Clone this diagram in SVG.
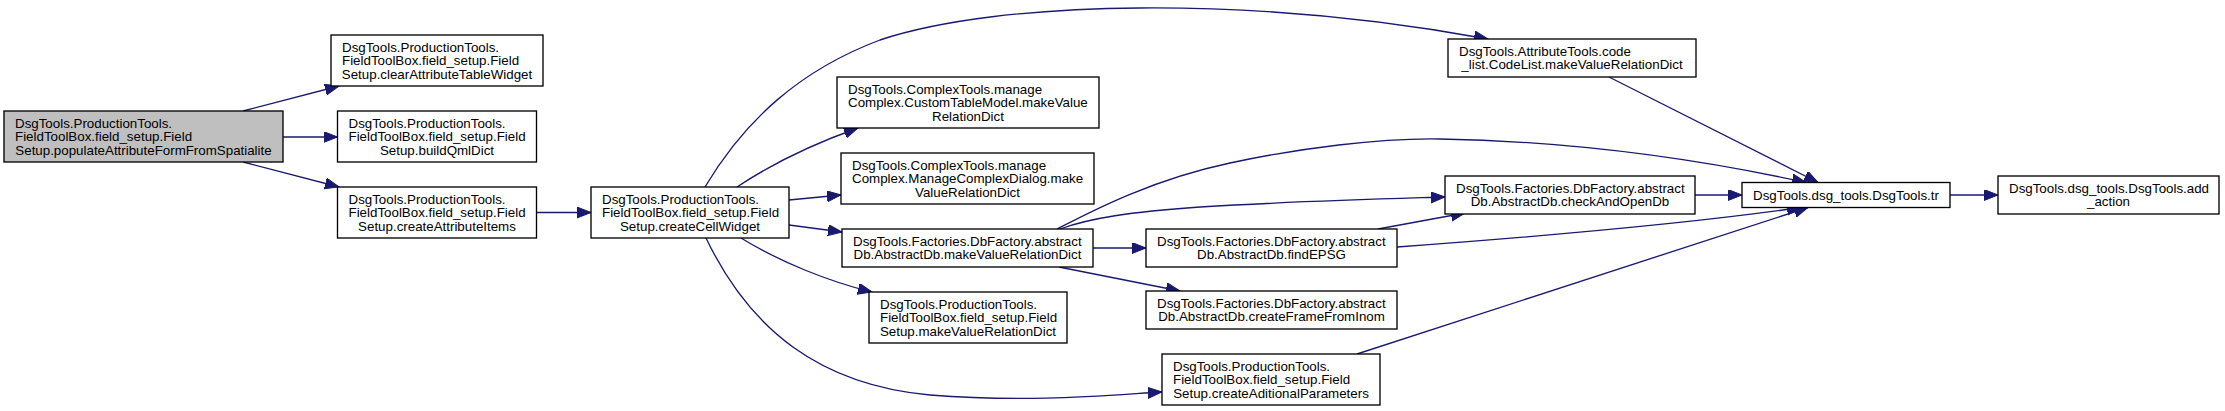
<svg xmlns="http://www.w3.org/2000/svg" width="2225" height="411" viewBox="0 0 2225 411">
<style>
.node rect{fill:#ffffff;stroke:#000000;stroke-width:1.33}
.root rect{fill:#bfbfbf}
text{font-family:"Liberation Sans",Arial,Helvetica,sans-serif;font-size:13.33px;fill:#000000}
.m{text-anchor:middle}
.edges path{fill:none;stroke:#191970;stroke-width:1.33;marker-end:url(#arr)}
</style>
<defs>
<marker id="arr" markerUnits="userSpaceOnUse" markerWidth="15" markerHeight="12" refX="14" refY="5.5" orient="auto">
<path d="M0,0 L14,5.5 L0,11 z" fill="#191970" stroke="#191970" stroke-width="1"/>
</marker>
</defs>
<rect x="0" y="0" width="2225" height="411" fill="#ffffff"/>
<g class="edges" id="connectors">
<path d="M243,111 L339,86"/>
<path d="M283,137 L337.5,137"/>
<path d="M243,162 L339,187"/>
<path d="M536.5,212.5 L591,212.5"/>
<path d="M705,187 C745,120 800,70 880,40 C1000,0 1250,-5 1488,39"/>
<path d="M737,187 C770,165 810,145 858,128"/>
<path d="M789,200 L841,195"/>
<path d="M789,225 L842,232"/>
<path d="M741,238 C780,262 830,282 872,292"/>
<path d="M706,238 C750,330 820,385 930,395 C1030,403 1110,395 1162,392"/>
<path d="M1093,248 L1146,248"/>
<path d="M1059,267 L1180,291"/>
<path d="M1060,229 C1090,218 1130,212 1200,207 C1300,201 1380,199 1445,197"/>
<path d="M1057,229 C1090,212 1150,180 1230,163 C1300,148 1380,138 1440,139 C1560,141 1680,155 1806,182.5"/>
<path d="M1378,229 L1465,213"/>
<path d="M1397,247 C1520,238 1680,225 1801,207.5"/>
<path d="M1357,354 L1808,207.5"/>
<path d="M1609,77 L1818,182.5"/>
<path d="M1695,195 L1742,195"/>
<path d="M1950,195 L1998,195"/>
</g>
<g id="nodeA" class="node root">
<rect x="4" y="111" width="279" height="51"/>
<text x="15" y="128">DsgTools.ProductionTools.</text>
<text x="15" y="141.3">FieldToolBox.field_setup.Field</text>
<text class="m" x="143.5" y="154.6">Setup.populateAttributeFormFromSpatialite</text>
</g>
<g id="nodeB" class="node">
<rect x="331" y="35" width="212" height="51"/>
<text x="342" y="52">DsgTools.ProductionTools.</text>
<text x="342" y="65.3">FieldToolBox.field_setup.Field</text>
<text class="m" x="437" y="78.6">Setup.clearAttributeTableWidget</text>
</g>
<g id="nodeC" class="node">
<rect x="337.5" y="111" width="199" height="51"/>
<text x="348.5" y="128">DsgTools.ProductionTools.</text>
<text x="348.5" y="141.3">FieldToolBox.field_setup.Field</text>
<text class="m" x="437" y="154.6">Setup.buildQmlDict</text>
</g>
<g id="nodeD" class="node">
<rect x="337.5" y="187" width="199" height="51"/>
<text x="348.5" y="204">DsgTools.ProductionTools.</text>
<text x="348.5" y="217.3">FieldToolBox.field_setup.Field</text>
<text class="m" x="437" y="230.6">Setup.createAttributeItems</text>
</g>
<g id="nodeE" class="node">
<rect x="591" y="187" width="198" height="51"/>
<text x="602" y="204">DsgTools.ProductionTools.</text>
<text x="602" y="217.3">FieldToolBox.field_setup.Field</text>
<text class="m" x="690" y="230.6">Setup.createCellWidget</text>
</g>
<g id="nodeF" class="node">
<rect x="837" y="77" width="262" height="51"/>
<text x="848" y="94">DsgTools.ComplexTools.manage</text>
<text x="848" y="107.3">Complex.CustomTableModel.makeValue</text>
<text class="m" x="968" y="120.6">RelationDict</text>
</g>
<g id="nodeG" class="node">
<rect x="841" y="153" width="253" height="51"/>
<text x="852" y="170">DsgTools.ComplexTools.manage</text>
<text x="852" y="183.3">Complex.ManageComplexDialog.make</text>
<text class="m" x="967.5" y="196.6">ValueRelationDict</text>
</g>
<g id="nodeH" class="node">
<rect x="842" y="229" width="251" height="38"/>
<text x="853" y="246">DsgTools.Factories.DbFactory.abstract</text>
<text class="m" x="967.5" y="259.3">Db.AbstractDb.makeValueRelationDict</text>
</g>
<g id="nodeI" class="node">
<rect x="869" y="292" width="198" height="51"/>
<text x="880" y="309">DsgTools.ProductionTools.</text>
<text x="880" y="322.3">FieldToolBox.field_setup.Field</text>
<text class="m" x="968" y="335.6">Setup.makeValueRelationDict</text>
</g>
<g id="nodeJ" class="node">
<rect x="1162" y="354" width="218" height="51"/>
<text x="1173" y="371">DsgTools.ProductionTools.</text>
<text x="1173" y="384.3">FieldToolBox.field_setup.Field</text>
<text class="m" x="1271" y="397.6">Setup.createAditionalParameters</text>
</g>
<g id="nodeK" class="node">
<rect x="1146" y="291" width="251" height="38"/>
<text x="1157" y="308">DsgTools.Factories.DbFactory.abstract</text>
<text class="m" x="1271.5" y="321.3">Db.AbstractDb.createFrameFromInom</text>
</g>
<g id="nodeL" class="node">
<rect x="1146" y="229" width="251" height="38"/>
<text x="1157" y="246">DsgTools.Factories.DbFactory.abstract</text>
<text class="m" x="1271.5" y="259.3">Db.AbstractDb.findEPSG</text>
</g>
<g id="nodeM" class="node">
<rect x="1445" y="176" width="250" height="38"/>
<text x="1456" y="193">DsgTools.Factories.DbFactory.abstract</text>
<text class="m" x="1570" y="206.3">Db.AbstractDb.checkAndOpenDb</text>
</g>
<g id="nodeN" class="node">
<rect x="1742" y="182.5" width="208" height="25"/>
<text class="m" x="1846" y="199.7">DsgTools.dsg_tools.DsgTools.tr</text>
</g>
<g id="nodeO" class="node">
<rect x="1998" y="176" width="221" height="38"/>
<text x="2009" y="193">DsgTools.dsg_tools.DsgTools.add</text>
<text class="m" x="2108.5" y="206.3">_action</text>
</g>
<g id="nodeP" class="node">
<rect x="1448" y="39" width="248" height="38"/>
<text x="1459" y="56">DsgTools.AttributeTools.code</text>
<text class="m" x="1572" y="69.3">_list.CodeList.makeValueRelationDict</text>
</g>
</svg>
